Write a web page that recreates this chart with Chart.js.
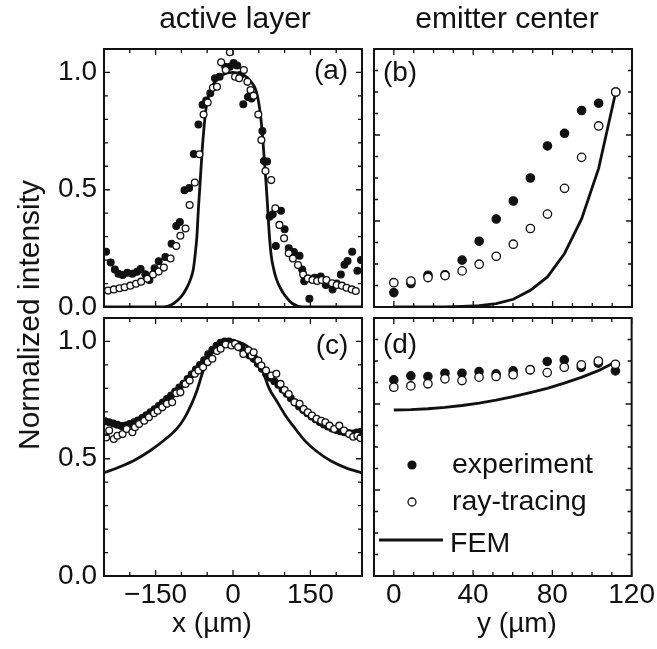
<!DOCTYPE html>
<html>
<head>
<meta charset="utf-8">
<script src="https://cdn.jsdelivr.net/npm/chart.js@4.4.1/dist/chart.umd.min.js"></script>
<style>
  html, body { margin: 0; padding: 0; background: #fff; }
  #wrap { position: relative; width: 657px; height: 649px; overflow: hidden;
          font-family: "Liberation Sans", Arial, Helvetica, sans-serif; color: #111; }
  #wrap canvas { position: absolute; left: 0; top: 0; }
  .t { position: absolute; font-size: 28px; line-height: 1; white-space: nowrap; }
  .big { font-size: 30px; }
</style>
</head>
<body>
<div id="wrap">
  <canvas id="pa" width="657" height="649"></canvas>
  <canvas id="pb" width="657" height="649"></canvas>
  <canvas id="pc" width="657" height="649"></canvas>
  <canvas id="pd" width="657" height="649"></canvas>

  <div class="t big" style="left:235px;top:3px;transform:translateX(-50%)">active layer</div>
  <div class="t big" style="left:507px;top:3px;transform:translateX(-50%)">emitter center</div>
  <div class="t" style="left:331px;top:56px;transform:translateX(-50%)">(a)</div>
  <div class="t" style="left:400px;top:58px;transform:translateX(-50%)">(b)</div>
  <div class="t" style="left:332px;top:331px;transform:translateX(-50%)">(c)</div>
  <div class="t" style="left:400px;top:330px;transform:translateX(-50%)">(d)</div>
  <div class="t" style="left:212px;top:609px;transform:translateX(-50%)">x (µm)</div>
  <div class="t" style="left:517px;top:609px;transform:translateX(-50%)">y (µm)</div>
  <div class="t big" style="left:29px;top:315px;transform:translate(-50%,-50%) rotate(-90deg)">Normalized intensity</div>
</div>

<script>
const W = 657, H = 649;
const INK = '#111';
const FONT = '"Liberation Sans", Arial, Helvetica, sans-serif';

// (a) active layer, top
const aExpX = [-246,-237,-229,-222,-214,-205,-195,-186,-179,-170,-162,-152,-144,-131,-119,-110,-103,-94,-85,-76,
               -67,-59,-52,-44,-35,-26,-15,-6,1,8,15,20,29,36,57,60,66,71,77,83,
               93,100,108,118,129,134,138,148,158,170,180,193,201,209,216,222,231,241,248];
const aExpY = [.236,.19,.16,.142,.136,.146,.142,.15,.162,.14,.115,.165,.195,.213,.27,.345,.362,.498,.507,.652,
               .778,.862,.88,.911,.975,.982,1.024,1.024,1.04,1.03,.99,.864,.895,.889,.75,.622,.62,.385,.395,.26,
               .41,.331,.25,.235,.219,.16,.11,.035,.125,.13,.094,.075,.1,.139,.18,.196,.236,.155,.2];
const aRayX = [-242,-231,-220,-210,-199,-188,-178,-166,-155,-144,-134,-121,-110,-102,-92,-84,-74,-65,-57,-49,
               -39,-31,-23,-14,-6,4,12,21,28,34,40,49,55,63,74,82,90,99,108,116,
               126,136,145,154,163,172,181,192,201,211,220,230,238];
const aRayY = [.070,.075,.080,.084,.091,.099,.108,.120,.139,.151,.168,.207,.260,.304,.335,.435,.531,.651,.821,.872,
               .935,.939,1.043,1.010,1.086,.982,.975,1.010,.960,.925,.901,.821,.712,.580,.541,.421,.350,.293,.229,.207,
               .179,.139,.122,.115,.111,.115,.115,.101,.094,.091,.082,.075,.068];
const aFemX = [-250,-135,-115,-100,-90,-82,-77,-73,-70,-67,-64,-60,-56,-52,-45,-35,-20,0,
               20,35,45,52,56,60,64,67,70,74,78,84,92,102,115,135,250];
const aFemY = [0,0,.015,.045,.08,.12,.16,.23,.3,.42,.52,.66,.77,.85,.92,.96,.99,1.0,
               .99,.96,.92,.84,.76,.65,.53,.43,.32,.22,.17,.12,.08,.045,.015,0,0];

// (c) active layer, bottom
const cExpX = [-248,-240,-232,-224,-216,-208,-200,-192,-184,-176,-168,-160,-152,-144,-136,-128,-120,-112,-104,-96,
               -88,-80,-72,-64,-56,-48,-40,-32,-24,-16,-8,0,8,16,24,32,40,48,56,64,
               72,80,88,96,104,112,120,128,136,144,152,160,168,176,184,192,200,208,216,224,232,240,248];
const cExpY = [.66,.655,.65,.645,.64,.642,.648,.655,.663,.674,.685,.698,.711,.725,.74,.755,.77,.787,.804,.82,
               .84,.86,.88,.9,.92,.945,.965,.982,.995,1.0,1.0,.995,.985,.972,.955,.94,.926,.905,.884,.862,
               .845,.83,.815,.795,.777,.758,.74,.723,.708,.694,.68,.668,.657,.646,.637,.629,.622,.617,.613,.61,.608,.612,.615];
const cRayX = [-246,-240,-231,-224,-214,-206,-195,-190,-182,-172,-163,-153,-146,-137,-128,-118,-110,-102,-92,-84,
               -74,-67,-58,-49,-40,-31,-24,-14,-3,4,10,20,30,36,40,49,55,64,74,84,
               92,100,108,119,129,137,145,153,162,171,179,187,196,206,215,225,233,241,247];
const cRayY = [.591,.62,.584,.598,.605,.627,.613,.634,.648,.662,.677,.694,.705,.719,.734,.741,.779,.783,.819,.833,
               .862,.876,.89,.912,.926,.959,.969,.987,.983,.99,.976,.947,.962,.94,.954,.919,.897,.876,.855,.862,
               .819,.793,.776,.741,.734,.712,.698,.684,.67,.662,.655,.641,.627,.641,.62,.605,.594,.598,.588];
const cFemX = [-250,-220,-190,-160,-130,-110,-95,-80,-70,-60,-50,-35,-20,0,20,35,50,60,70,85,100,120,140,160,190,220,250];
const cFemY = [.44,.465,.495,.535,.585,.625,.67,.735,.79,.86,.92,.965,.99,1.0,.99,.965,.92,.86,.8,.745,.69,.63,.575,.535,.49,.46,.44];

// (b), (d) emitter center, sampled along y
const yPos = [0,8.6,17.2,25.8,34.4,43,51.6,60.2,68.8,77.4,86,94.6,103.2,111.8];
const bExp = [.067,.109,.148,.15,.218,.306,.409,.493,.6,.749,.808,.914,.948,1.0];
const bRay = [.113,.121,.137,.146,.168,.199,.236,.292,.365,.432,.552,.696,.842,1.0];
const bFem = [0,0,0,.001,.003,.006,.016,.036,.078,.14,.249,.41,.645,1.0];
const dExp = [.912,.931,.928,.943,.943,.951,.94,.954,.96,.998,1.005,.971,.99,.954];
const dRay = [.878,.884,.894,.917,.909,.925,.928,.936,.959,.946,.971,.982,1.0,.985];
const dFem = [.772,.774,.778,.784,.793,.804,.818,.834,.853,.873,.897,.924,.955,.995];

Chart.defaults.font.family = FONT;
Chart.defaults.color = INK;

const pts = (xs, ys) => xs.map((x, i) => ({ x, y: ys[i] }));
const near = (v, step) => Math.abs(v / step - Math.round(v / step)) < 1e-6;
const num = (v, dec) => (v < 0 ? '\u2212' : '') + Math.abs(v).toFixed(dec);

// box + inward ticks on all four sides
const frame = {
  id: 'frame',
  afterDraw(chart, args, o) {
    const { ctx, chartArea: a } = chart;
    const { x, y } = chart.scales;
    ctx.save();
    ctx.strokeStyle = INK;
    ctx.lineWidth = 1.3;
    ctx.beginPath();
    x.ticks.forEach(t => {
      const p = x.getPixelForValue(t.value);
      const l = near(t.value, o.xMajor) ? 6 : 4;
      ctx.moveTo(p, a.bottom); ctx.lineTo(p, a.bottom - l);
      ctx.moveTo(p, a.top); ctx.lineTo(p, a.top + l);
    });
    y.ticks.forEach(t => {
      const p = y.getPixelForValue(t.value);
      const l = near(t.value, o.yMajor) ? 6 : 4;
      ctx.moveTo(a.left, p); ctx.lineTo(a.left + l, p);
      ctx.moveTo(a.right, p); ctx.lineTo(a.right - l, p);
    });
    ctx.stroke();
    ctx.lineWidth = 2;
    ctx.strokeRect(a.left, a.top, a.right - a.left, a.bottom - a.top);
    ctx.restore();
  }
};

// legend inside panel (d)
const keyBox = {
  id: 'keyBox',
  afterDraw(chart, args, o) {
    if (!o.show) return;
    const { ctx, chartArea: a } = chart;
    const ds = chart.data.datasets;
    ctx.save();
    ctx.font = '28.5px ' + FONT;
    ctx.fillStyle = INK;
    ctx.strokeStyle = INK;
    // experiment
    ctx.beginPath(); ctx.arc(a.left + 38, a.top + 147, 4.6, 0, Math.PI * 2); ctx.fill();
    ctx.fillText(ds[0].label, a.left + 78, a.top + 155);
    // ray-tracing
    ctx.lineWidth = 1.3;
    ctx.beginPath(); ctx.arc(a.left + 38, a.top + 184, 4, 0, Math.PI * 2);
    ctx.fillStyle = '#fff'; ctx.fill(); ctx.stroke();
    ctx.fillStyle = INK;
    ctx.fillText(ds[1].label, a.left + 78, a.top + 192);
    // FEM
    ctx.lineWidth = 2.8;
    ctx.beginPath(); ctx.moveTo(a.left + 5, a.top + 222); ctx.lineTo(a.left + 69, a.top + 222); ctx.stroke();
    ctx.fillText(ds[2].label, a.left + 76, a.top + 234);
    ctx.restore();
  }
};

function sets(exp, ray, fem, r, smooth) {
  return [
    { label: 'experiment', data: exp, order: 1, pointRadius: r, pointBorderWidth: 1.2,
      backgroundColor: INK, borderColor: INK, clip: 0 },
    { label: 'ray-tracing', data: ray, order: 0, pointRadius: r, pointBorderWidth: 1.3,
      backgroundColor: '#fff', borderColor: INK, clip: 0 },
    { label: 'FEM', data: fem, order: 2, showLine: true, pointRadius: 0, borderWidth: 2.8,
      borderColor: INK, clip: 0,
      cubicInterpolationMode: smooth ? 'monotone' : 'default', tension: 0 }
  ];
}

function panel(id, box, datasets, xs, ys, key) {
  return new Chart(document.getElementById(id), {
    type: 'scatter',
    data: { datasets },
    plugins: [frame, keyBox],
    options: {
      responsive: false,
      animation: false,
      events: [],
      layout: { padding: { left: 0, top: box.top, right: W - box.right, bottom: 0 } },
      plugins: {
        legend: { display: false },
        tooltip: { enabled: false },
        frame: { xMajor: xs.major, yMajor: ys.major },
        keyBox: { show: !!key }
      },
      scales: {
        x: {
          type: 'linear', min: xs.min, max: xs.max,
          grid: { display: false, drawTicks: false, tickLength: 0 }, border: { display: false },
          ticks: { stepSize: xs.step, autoSkip: false, maxRotation: 0, display: xs.show,
                   padding: 2, font: { size: 28 }, color: INK,
                   callback: v => near(v, xs.major) ? num(v, 0) : '' },
          afterFit: s => { s.height = H - box.bottom; }
        },
        y: {
          type: 'linear', min: ys.min, max: ys.max,
          grid: { display: false, drawTicks: false, tickLength: 0 }, border: { display: false },
          ticks: { stepSize: ys.step, autoSkip: false, display: ys.show,
                   padding: 7, font: { size: 28 }, color: INK,
                   callback: v => near(v, ys.major) ? num(v, 1) : '' },
          afterFit: s => { s.width = box.left; }
        }
      }
    }
  });
}

const xAct = { min: -250, max: 250, step: 50, major: 150 };
const xEmi = { min: -10, max: 120, step: 10, major: 40 };
const yAct = { min: 0, max: 1.1, step: 0.1, major: 0.5, show: true };
const yEmi = { min: 0, max: 1.2, step: 0.1, major: 0.4, show: false };

panel('pa', { left: 104, right: 362, top: 49, bottom: 307 },
  sets(pts(aExpX, aExpY), pts(aRayX, aRayY), pts(aFemX, aFemY), 3.4, true),
  { ...xAct, show: false }, yAct);
panel('pb', { left: 374, right: 632, top: 49, bottom: 307 },
  sets(pts(yPos, bExp), pts(yPos, bRay), pts(yPos, bFem), 4.2, false),
  { ...xEmi, show: false }, yEmi);
panel('pc', { left: 104, right: 362, top: 318, bottom: 576 },
  sets(pts(cExpX, cExpY), pts(cRayX, cRayY), pts(cFemX, cFemY), 3.4, true),
  { ...xAct, show: true }, yAct);
panel('pd', { left: 374, right: 632, top: 318, bottom: 576 },
  sets(pts(yPos, dExp), pts(yPos, dRay), pts(yPos, dFem), 4.2, false),
  { ...xEmi, show: true }, yEmi, true);
</script>
</body>
</html>
